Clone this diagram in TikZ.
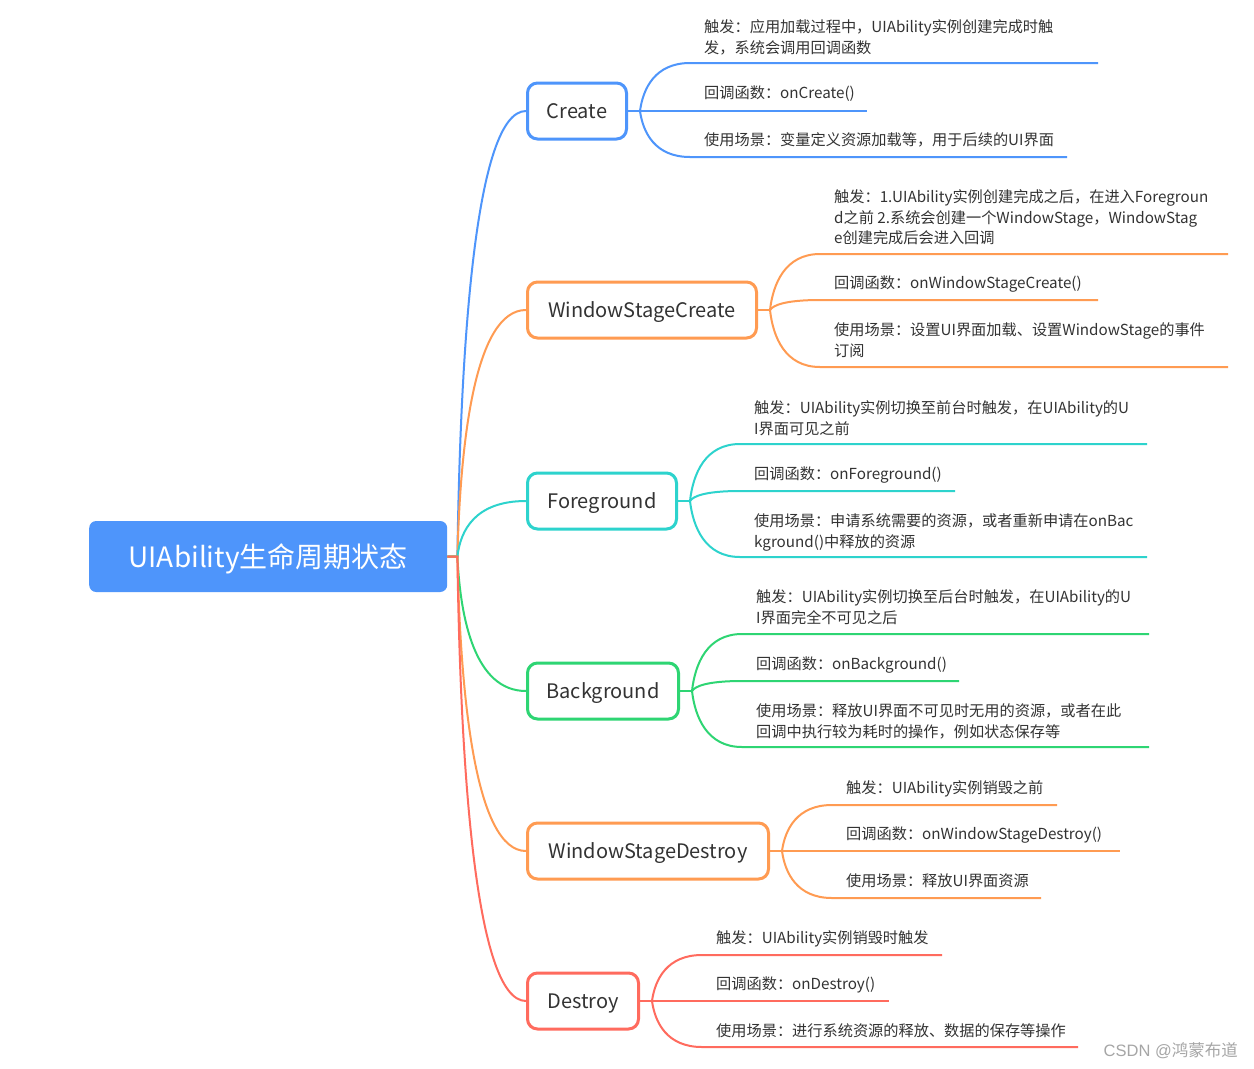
\documentclass[tikz,border=0pt]{standalone}
\usepackage{fontspec}
\setmainfont{Noto Sans CJK SC}
\newfontfamily\wmfont{Liberation Sans}
\usetikzlibrary{calc}
\definecolor{cblue}{HTML}{4E95FB}
\definecolor{corange}{HTML}{FF9B52}
\definecolor{ccyan}{HTML}{2DD3CD}
\definecolor{cgreen}{HTML}{2ED573}
\definecolor{cred}{HTML}{FF6B5E}
\definecolor{ctext}{HTML}{333333}
\definecolor{cwm}{HTML}{A6A6A6}
\newcommand\leafcon[5]{\draw[conn=#1] (#2) .. controls +(3,#5) and +(-35,0) .. (#3) -- (#4);}
\begin{document}
\begin{tikzpicture}[x=1pt,y=-1pt,
 rootbox/.style={fill=cblue, rounded corners=7, minimum width=358, minimum height=71, text=white, font=\fontsize{28}{32}\selectfont, inner sep=0, anchor=west, text height=24, text depth=2},
 childbox/.style={draw=#1, line width=3, fill=white, rounded corners=10, minimum height=56, inner sep=0, text=ctext, font=\fontsize{20}{24}\selectfont, anchor=west, text height=15, text depth=1},
 conn/.style={line width=2, draw=#1},
 leaftext/.style={anchor=north west, inner sep=0, align=left, text=ctext, font=\fontsize{15.2}{20.5}\selectfont},
]
\useasboundingbox[fill=white] (0,0) rectangle (1254,1069);

% root and children
\node[rootbox] (root) at (89,556.5) {UIAbility生命周期状态};
\node[childbox=cblue, minimum width=99] (c1) at (526,111) {Create};
\node[childbox=corange, minimum width=229] (c2) at (526,310) {WindowStageCreate};
\node[childbox=ccyan, minimum width=149] (c3) at (526,501) {Foreground};
\node[childbox=cgreen, minimum width=151] (c4) at (526,691) {Background};
\node[childbox=corange, minimum width=241] (c5) at (526,851) {WindowStageDestroy};
\node[childbox=cred, minimum width=111] (c6) at (526,1001) {Destroy};

\coordinate (rs) at ($(root.east)+(10,0)$);
\draw[conn=cblue] (root.east) -- (rs) .. controls +(3,-209) and +(-51,0) .. (c1.west);
\draw[conn=corange] (root.east) -- (rs) .. controls +(3,-116) and +(-51,0) .. (c2.west);
\draw[conn=ccyan] (root.east) -- (rs) .. controls +(3,-26) and +(-51,0) .. (c3.west);
\draw[conn=cgreen] (root.east) -- (rs) .. controls +(3,63) and +(-51,0) .. (c4.west);
\draw[conn=corange] (root.east) -- (rs) .. controls +(3,139) and +(-51,0) .. (c5.west);
\draw[conn=cred] (root.east) -- (rs) .. controls +(3,209) and +(-51,0) .. (c6.west);

% forks
\coordinate (f1) at ($(c1.east)+(12,0)$);
\coordinate (f2) at ($(c2.east)+(12,0)$);
\coordinate (f3) at ($(c3.east)+(12,0)$);
\coordinate (f4) at ($(c4.east)+(12,0)$);
\coordinate (f5) at ($(c5.east)+(12,0)$);
\coordinate (f6) at ($(c6.east)+(12,0)$);
\draw[conn=cblue] (c1.east) -- (f1);
\draw[conn=corange] (c2.east) -- (f2);
\draw[conn=ccyan] (c3.east) -- (f3);
\draw[conn=cgreen] (c4.east) -- (f4);
\draw[conn=corange] (c5.east) -- (f5);
\draw[conn=cred] (c6.east) -- (f6);

% Create leaves
\coordinate (s11) at (690,63);  \coordinate (e11) at (1098,63);
\coordinate (s12) at (690,111); \coordinate (e12) at (867,111);
\coordinate (s13) at (690,157); \coordinate (e13) at (1067,157);
\leafcon{cblue}{f1}{s11}{e11}{-22.5}
\leafcon{cblue}{f1}{s12}{e12}{0}
\leafcon{cblue}{f1}{s13}{e13}{21.6}
\node[leaftext] (t11) at (704,19.5) {触发：应用加载过程中，UIAbility实例创建完成时触\\发，系统会调用回调函数};
\node[leaftext] (t12) at (704,85.5) {回调函数：onCreate()};
\node[leaftext] (t13) at (704,132.5) {使用场景：变量定义资源加载等，用于后续的UI界面};

% WindowStageCreate leaves
\coordinate (s21) at (820,254); \coordinate (e21) at (1228,254);
\coordinate (s22) at (820,300); \coordinate (e22) at (1098,300);
\coordinate (s23) at (820,367); \coordinate (e23) at (1228,367);
\leafcon{corange}{f2}{s21}{e21}{-26}
\leafcon{corange}{f2}{s22}{e22}{-4.7}
\leafcon{corange}{f2}{s23}{e23}{27}
\node[leaftext] (t21) at (834,189.5) {触发：1.UIAbility实例创建完成之后，在进入Foregroun\\d之前 2.系统会创建一个WindowStage，WindowStag\\e创建完成后会进入回调};
\node[leaftext] (t22) at (834,275.5) {回调函数：onWindowStageCreate()};
\node[leaftext] (t23) at (834,322.5) {使用场景：设置UI界面加载、设置WindowStage的事件\\订阅};

% Foreground leaves
\coordinate (s31) at (740,444); \coordinate (e31) at (1147,444);
\coordinate (s32) at (740,491); \coordinate (e32) at (955,491);
\coordinate (s33) at (740,557); \coordinate (e33) at (1147,557);
\leafcon{ccyan}{f3}{s31}{e31}{-27}
\leafcon{ccyan}{f3}{s32}{e32}{-4.7}
\leafcon{ccyan}{f3}{s33}{e33}{26}
\node[leaftext] (t31) at (754,400.5) {触发：UIAbility实例切换至前台时触发，在UIAbility的U\\I界面可见之前};
\node[leaftext] (t32) at (754,466.5) {回调函数：onForeground()};
\node[leaftext] (t33) at (754,513.5) {使用场景：申请系统需要的资源，或者重新申请在onBac\\kground()中释放的资源};

% Background leaves
\coordinate (s41) at (742,634); \coordinate (e41) at (1149,634);
\coordinate (s42) at (742,681); \coordinate (e42) at (959,681);
\coordinate (s43) at (742,747); \coordinate (e43) at (1149,747);
\leafcon{cgreen}{f4}{s41}{e41}{-27}
\leafcon{cgreen}{f4}{s42}{e42}{-4.7}
\leafcon{cgreen}{f4}{s43}{e43}{26}
\node[leaftext] (t41) at (756,589.5) {触发：UIAbility实例切换至后台时触发，在UIAbility的U\\I界面完全不可见之后};
\node[leaftext] (t42) at (756,656.5) {回调函数：onBackground()};
\node[leaftext] (t43) at (756,703.5) {使用场景：释放UI界面不可见时无用的资源，或者在此\\回调中执行较为耗时的操作，例如状态保存等};

% WindowStageDestroy leaves
\coordinate (s51) at (832,805); \coordinate (e51) at (1057,805);
\coordinate (s52) at (832,851); \coordinate (e52) at (1120,851);
\coordinate (s53) at (832,898); \coordinate (e53) at (1041,898);
\leafcon{corange}{f5}{s51}{e51}{-21.6}
\leafcon{corange}{f5}{s52}{e52}{0}
\leafcon{corange}{f5}{s53}{e53}{22}
\node[leaftext] (t51) at (846,780.5) {触发：UIAbility实例销毁之前};
\node[leaftext] (t52) at (846,826.5) {回调函数：onWindowStageDestroy()};
\node[leaftext] (t53) at (846,873.5) {使用场景：释放UI界面资源};

% Destroy leaves
\coordinate (s61) at (702,955);  \coordinate (e61) at (942,955);
\coordinate (s62) at (702,1001); \coordinate (e62) at (889,1001);
\coordinate (s63) at (702,1047); \coordinate (e63) at (1078,1047);
\leafcon{cred}{f6}{s61}{e61}{-21.6}
\leafcon{cred}{f6}{s62}{e62}{0}
\leafcon{cred}{f6}{s63}{e63}{21.6}
\node[leaftext] (t61) at (716,930.5) {触发：UIAbility实例销毁时触发};
\node[leaftext] (t62) at (716,976.5) {回调函数：onDestroy()};
\node[leaftext] (t63) at (716,1023.5) {使用场景：进行系统资源的释放、数据的保存等操作};

\node[anchor=east, inner sep=0, text=cwm, font=\fontsize{16.5}{18}\selectfont] (wm) at (1238,1051) {{\wmfont CSDN @}鸿蒙布道};
\end{tikzpicture}
\end{document}
